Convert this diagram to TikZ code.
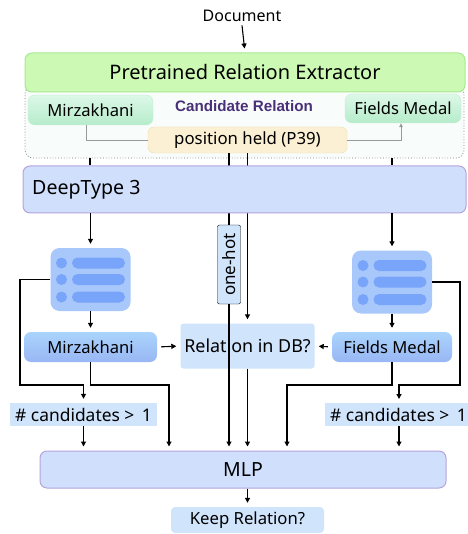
\documentclass[tikz,border=0pt]{standalone}
\usepackage{fontspec}
\setmainfont{Noto Sans}
\newfontfamily\crfont{Liberation Sans}
\usetikzlibrary{arrows.meta,calc,shadings}
\definecolor{grfill}{HTML}{CCFAB4}
\definecolor{grdraw}{HTML}{A8E890}
\definecolor{contfill}{HTML}{F8FCFA}
\definecolor{mgtop}{HTML}{DDF8E8}
\definecolor{mgbot}{HTML}{B6ECCA}
\definecolor{mgdraw}{HTML}{C4EED4}
\definecolor{phfill}{HTML}{FCF0D4}
\definecolor{phdraw}{HTML}{EEDDB2}
\definecolor{dtfill}{HTML}{D0E0FC}
\definecolor{dtdraw}{HTML}{B4A4DC}
\definecolor{icfill}{HTML}{A8C8FC}
\definecolor{icrow}{HTML}{78A4FA}
\definecolor{bltop}{HTML}{AAD4FC}
\definecolor{blbot}{HTML}{98B6F4}
\definecolor{lbfill}{HTML}{D0E4FC}
\definecolor{crtext}{HTML}{4A3078}
\begin{document}
\begin{tikzpicture}[x=1pt,y=-1pt,
  rbox/.style={rounded corners=7pt, minimum width=#1, inner sep=0pt},
  arr/.style={line width=1.1pt, -{Triangle[length=5pt,width=5pt]}, shorten >=4pt},
  ln/.style={line width=1.1pt},
  glink/.style={draw=gray!80, line width=0.8pt},
]
\useasboundingbox (0,0) rectangle (467,534);

% container
\node[draw=gray, dotted, line width=0.8pt, fill=contfill, rounded corners=8pt,
      minimum width=439pt, minimum height=72pt, inner sep=0pt] (cont) at (244.5,122) {};

% green extractor
\node[rbox=440pt, minimum height=39pt, fill=grfill, draw=grdraw, line width=1pt,
      font=\fontsize{20}{20}\selectfont] (pre) at (245,72.5) {Pretrained Relation Extractor};

\node[font=\fontsize{16}{16}\selectfont] (doc) at (242,16) {Document};
\draw[arr] (doc.south) -- (pre.north);

% candidate relation
\node[rbox=125pt, minimum height=30pt, top color=mgtop, bottom color=mgbot, draw=mgdraw,
      font=\fontsize{16.6}{16.6}\selectfont] (mzg) at (90.5,110) {Mirzakhani};
\node[rbox=116pt, minimum height=29pt, top color=mgtop, bottom color=mgbot, draw=mgdraw,
      font=\fontsize{16.6}{16.6}\selectfont] (fmg) at (403,108.5) {Fields Medal};
\node[text=crtext, font=\crfont\bfseries\fontsize{15.2}{15.2}\selectfont] (cr) at (244,106.5) {Candidate Relation};
\node[rbox=199pt, minimum height=26pt, fill=phfill, draw=phdraw, rounded corners=6pt,
      font=\fontsize{16.8}{16.8}\selectfont] (ph) at (247.5,140) {position held (P39)};
\draw[glink] ([xshift=-4.5pt]mzg.south) |- (ph.west);
\draw[glink, -{Triangle[length=4pt,width=3.5pt]}] (ph.east) -| ([xshift=-2pt]fmg.south);

% one-hot label
\node[draw, fill=lbfill, rounded corners=2pt, rotate=90, minimum width=79pt,
      minimum height=23pt, inner sep=0pt, font=\fontsize{17}{17}\selectfont] (oh) at (229,264.5) {one-hot};

% relation in db
\node[fill=lbfill, rounded corners=3pt, minimum width=134pt, minimum height=45pt,
      inner sep=0pt, font=\fontsize{17.9}{17.9}\selectfont] (rdb) at (247.5,346) {Relation in DB?};

\draw[ln] (ph.south -| oh.east) -- (oh.east);
\draw[arr] (ph.south) -- (rdb.north);

% DeepType
\node[rbox=443pt, minimum height=47pt, fill=dtfill, draw=dtdraw, line width=1pt] (dt) at (244.5,189.5) {};
\node[anchor=west, inner sep=0pt, font=\fontsize{19.6}{19.6}\selectfont] (dtl) at (32,190) {DeepType 3};

% ticks container -> DeepType
\draw[ln] (cont.south -| 90,0) -- (dt.north -| 90,0);
\draw[ln] (cont.south -| 392,0) -- (dt.north -| 392,0);

% icons
\foreach \nm/\cx/\cy in {licon/90.5/279.5, ricon/392/282}{
  \node[fill=icfill, rounded corners=9pt, minimum width=80pt, minimum height=63pt, inner sep=0pt] (\nm) at (\cx,\cy) {};
  \foreach \dy in {-16.5,0,17.5}{
    \fill[icrow] ($(\nm.center)+(-29,\dy)$) circle (5.5pt);
    \fill[icrow, rounded corners=5.5pt] ($(\nm.center)+(-18.5,\dy-5.5)$) rectangle ($(\nm.center)+(34.5,\dy+5.5)$);
  }
}
\draw[arr] (dt.south -| licon.north) -- (licon.north);
\draw[arr] (dt.south -| ricon.north) -- (ricon.north);

% blue entity boxes
\node[rbox=133pt, minimum height=30pt, top color=bltop, bottom color=blbot,
      font=\fontsize{16.6}{16.6}\selectfont] (mzb) at (90.5,347) {Mirzakhani};
\node[rbox=120pt, minimum height=30pt, top color=bltop, bottom color=blbot,
      font=\fontsize{16.6}{16.6}\selectfont] (fmb) at (392,347) {Fields Medal};
\draw[arr] (licon.south) -- (mzb.north);
\draw[arr] (ricon.south) -- (fmb.north);
\draw[arr, shorten <=4pt] (mzb.east) -- (rdb.west);
\draw[arr, shorten <=4pt] (fmb.west) -- (rdb.east);

% candidates labels
\node[fill=lbfill, minimum width=147pt, minimum height=23pt, inner sep=0pt,
      font=\fontsize{17.4}{17.4}\selectfont] (cl) at (83.5,414.5) {\# candidates >\, 1};
\node[fill=lbfill, minimum width=150pt, minimum height=23pt, inner sep=0pt] (crb) at (400,414.5) {};
\node[anchor=west, font=\fontsize{17.4}{17.4}\selectfont, inner sep=0pt] (crt) at (330,414.5) {\# candidates >\, 1};
\coordinate (crn) at (399,403);

% MLP and output
\node[rbox=406pt, minimum height=37pt, fill=dtfill, draw=dtdraw, line width=1pt,
      font=\fontsize{19.5}{19.5}\selectfont] (mlp) at (243,469.5) {MLP};
\node[fill=lbfill, rounded corners=4pt, minimum width=153pt, minimum height=26pt,
      inner sep=0pt, font=\fontsize{16.7}{16.7}\selectfont] (keep) at (247.5,520) {Keep Relation?};

% junction coordinates
\coordinate (jL) at (20,385);
\coordinate (jR) at (460,385);
\coordinate (bL) at (169,385);
\coordinate (bR) at (287,385);

\draw[arr] (licon.west) -| (jL) -| (cl.north);
\draw[arr] (ricon.east) -| (jR) -| (crn);
\draw[arr] (mzb.south) |- (bL) -- (bL |- mlp.north);
\draw[arr] (fmb.south) |- (bR) -- (bR |- mlp.north);
\draw[arr] (cl.south) -- (cl.south |- mlp.north);
\draw[arr] (crn |- crb.south) -- (crn |- mlp.north);
\draw[arr] (oh.west) -- (oh.west |- mlp.north);
\draw[arr] (rdb.south) -- (rdb.south |- mlp.north);
\draw[arr] (keep.north |- mlp.south) -- (keep.north);
\end{tikzpicture}
\end{document}
